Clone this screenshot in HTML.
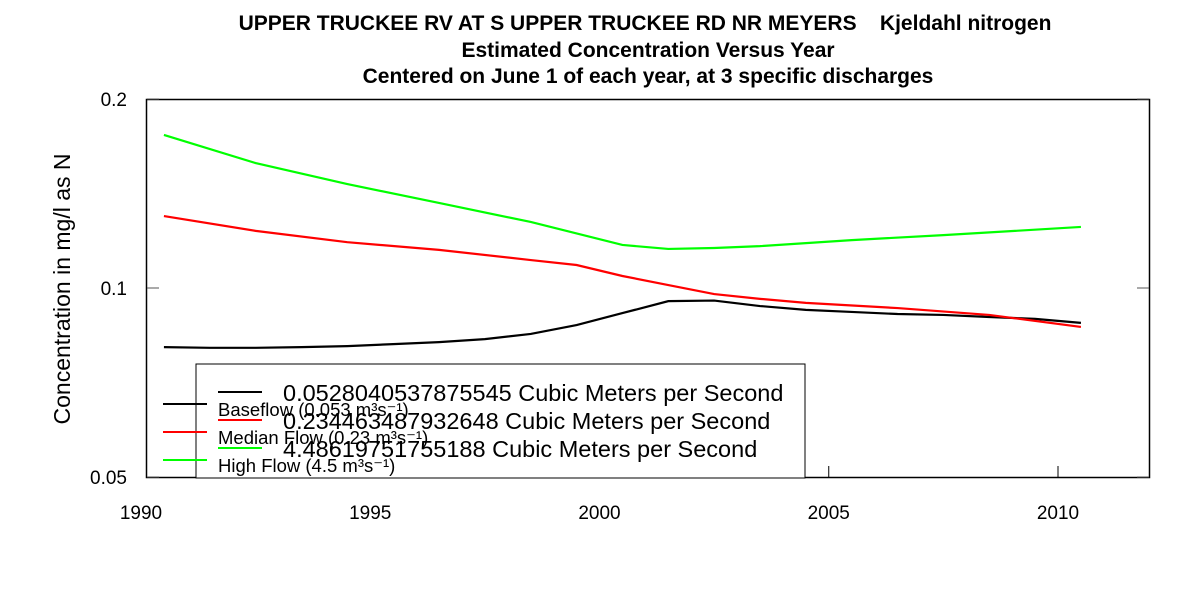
<!DOCTYPE html>
<html><head><meta charset="utf-8"><style>
body{margin:0;background:#fff;}
svg text{font-family:"Liberation Sans",sans-serif;}
</style></head><body>
<svg id="chart" width="1200" height="600" xmlns="http://www.w3.org/2000/svg">
<rect width="1200" height="600" fill="#fff"/>
<g font-weight="bold" font-size="21" text-anchor="middle">
<text x="645" y="30" xml:space="preserve">UPPER TRUCKEE RV AT S UPPER TRUCKEE RD NR MEYERS    Kjeldahl nitrogen</text>
<text x="648" y="57">Estimated Concentration Versus Year</text>
<text x="648" y="83">Centered on June 1 of each year, at 3 specific discharges</text>
</g>
<rect x="146.5" y="99.5" width="1003" height="378" fill="none" stroke="#000" stroke-width="1.5"/>
<text transform="translate(70,289) rotate(-90)" text-anchor="middle" font-size="23">Concentration in mg/l as N</text>
<g id="axes"></g>
<g id="series"></g>
<g id="legend">
<rect x="196" y="364" width="609" height="114" fill="#fff" stroke="#000"/>
</g>
</svg>
<script>
const xTicks=[1990,1995,2000,2005,2010];
const yTicks=[0.05,0.1,0.2];
const yTickLabels=["0.05","0.1","0.2"];
const baseYears=[1990.5,1991.5,1992.5,1993.5,1994.5,1995.5,1996.5,1997.5,1998.5,1999.5,2000.5,2001.5,2002.5,2003.5,2004.5,2005.5,2006.5,2007.5,2008.5,2009.5,2010.5];
const baseVals=[0.0805,0.0803,0.0803,0.0805,0.0808,0.0814,0.0820,0.0829,0.0845,0.0873,0.0912,0.0953,0.0955,0.0936,0.0923,0.0916,0.0909,0.0906,0.0899,0.0893,0.0880];
const medYears=[1990.5,1992.5,1994.5,1996.5,1998.5,1999.5,2000.5,2001.5,2002.5,2003.5,2004.5,2006.5,2008.5,2010.5];
const medVals=[0.1302,0.1233,0.1183,0.1150,0.1108,0.1088,0.1045,0.1011,0.0978,0.0961,0.0947,0.0929,0.0906,0.0867];
const highYears=[1990.5,1992.5,1994.5,1996.5,1998.5,2000.5,2001.5,2002.5,2003.5,2005.5,2007.5,2010.5];
const highVals=[0.1753,0.1581,0.1464,0.1366,0.1274,0.1171,0.1154,0.1158,0.1166,0.1192,0.1214,0.1251];
const NS="http://www.w3.org/2000/svg";
function X(v){return 141+(v-1990)*45.85;}
function Y(v){return 288-Math.log2(v/0.1)*189;}
function mk(t,a,p){const e=document.createElementNS(NS,t);for(const k in a)e.setAttribute(k,a[k]);p.appendChild(e);return e;}
const axes=document.getElementById('axes');
xTicks.forEach(t=>{
 if(X(t)>147){
 const l=mk('line',{x1:X(t),x2:X(t),y1:466,y2:478,stroke:'#000'},axes);
 
 
 }
 const tx=mk('text',{x:X(t),y:519,'font-size':19,'text-anchor':'middle'},axes);tx.textContent=t;
 
 
});
yTicks.forEach((t,i)=>{
 mk('line',{x1:147,x2:159,y1:Y(t),y2:Y(t),stroke:'#555'},axes);
 mk('line',{x1:1137,x2:1149,y1:Y(t),y2:Y(t),stroke:'#555'},axes);
 const tx=mk('text',{x:127,y:Y(t)+7,'font-size':19,'text-anchor':'end'},axes);tx.textContent=yTickLabels[i];
 
 
});
const series=document.getElementById('series');
[[baseYears,baseVals,'#000','baseflow-line'],[medYears,medVals,'#f00','median-flow-line'],[highYears,highVals,'#0f0','high-flow-line']].forEach(s=>{
 const p=mk('polyline',{points:s[0].map((y,i)=>X(y)+','+Y(s[1][i])).join(' '),fill:'none',stroke:s[2],'stroke-width':2.2},series);
 
 
});
const lg=document.getElementById('legend');
const cols=['#000','#f00','#0f0'];
const big=['0.0528040537875545 Cubic Meters per Second','0.234463487932648 Cubic Meters per Second','4.48619751755188 Cubic Meters per Second'];
const small=['Baseflow (0.053 m³s⁻¹)','Median Flow (0.23 m³s⁻¹)','High Flow (4.5 m³s⁻¹)'];
for(let i=0;i<3;i++){
 mk('line',{x1:218,x2:262,y1:392+i*28,y2:392+i*28,stroke:cols[i],'stroke-width':2},lg);
 const t=mk('text',{x:283,y:401+i*28,'font-size':23.5},lg);t.textContent=big[i];
 
 
 mk('line',{x1:163,x2:207,y1:404+i*28,y2:404+i*28,stroke:cols[i],'stroke-width':2},lg);
 const t2=mk('text',{x:218,y:416+i*28,'font-size':18.5},lg);t2.textContent=small[i];
 
 
}
</script>
</body></html>
